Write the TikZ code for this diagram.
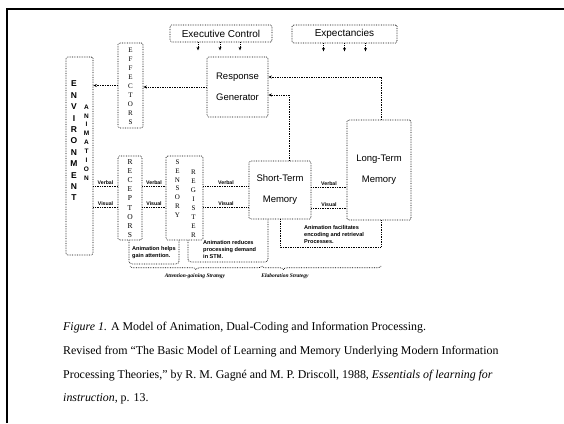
\documentclass[tikz,border=0pt]{standalone}
\usepackage{fontspec}
\setmainfont{Liberation Serif}
\setsansfont{Liberation Sans}
\usetikzlibrary{arrows.meta,decorations.pathreplacing}
\begin{document}
\begin{tikzpicture}[x=1pt,y=-1pt,
  box/.style={draw, densely dotted, line width=0.7pt, inner sep=0pt, rounded corners=1.5pt},
  conn/.style={densely dotted, line width=0.7pt},
  arr/.style={conn, -{Stealth[length=3.5pt,width=3pt]}},
  blbl/.style={font=\sffamily\fontsize{9.5}{21}\selectfont, align=center},
  tlbl/.style={font=\sffamily\fontsize{10}{12}\selectfont},
  vlet/.style={align=center, inner sep=0pt},
  vlbl/.style={font=\sffamily\bfseries\fontsize{5.2}{6}\selectfont, inner sep=1pt, above},
  note/.style={font=\sffamily\bfseries\fontsize{5.6}{7.3}\selectfont, align=left, inner sep=0pt, anchor=north west},
  strat/.style={font=\bfseries\itshape\fontsize{5.5}{7}\selectfont, inner sep=0pt},
  captxt/.style={font=\fontsize{11.9}{13}\selectfont, anchor=base west, inner sep=0pt},
  brc/.style={conn, decorate, decoration={brace, mirror, amplitude=3.5pt}}
]
\useasboundingbox (0,0) rectangle (564,423);
\draw[line width=2.6pt] (7,423) -- (7,9) -- (564,9);

% boxes
\node[box, minimum width=102pt, minimum height=17pt, tlbl] (exec) at (221,33.5) {Executive Control};
\node[box, minimum width=105pt, minimum height=18pt, tlbl] (expect) at (344.5,34) {Expectancies};
\node[box, minimum width=61pt, minimum height=60pt, blbl] (rg) at (237.5,87) {Response\\Generator};
\node[box, minimum width=25pt, minimum height=85pt] (eff) at (130.5,85.5) {};
\node[box, minimum width=27pt, minimum height=198pt] (env) at (79.5,156) {};
\node[box, minimum width=24pt, minimum height=84pt] (rec) at (130,198) {};
\node[box, minimum width=37pt, minimum height=84pt] (sr) at (184.5,198) {};
\node[box, minimum width=62pt, minimum height=58pt, blbl] (stm) at (280,190) {Short-Term\\Memory};
\node[box, minimum width=64pt, minimum height=100pt, blbl] (ltm) at (379,170) {Long-Term\\Memory};

% vertical letters
\node[vlet, font=\sffamily\bfseries\fontsize{8.5}{11.4}\selectfont] (envt) at (74,141) {E\\N\\V\\I\\R\\O\\N\\M\\E\\N\\T};
\node[vlet, font=\sffamily\bfseries\fontsize{6.5}{8.9}\selectfont] (anim) at (86.5,142.5) {A\\N\\I\\M\\A\\T\\I\\O\\N};
\node[vlet, font=\fontsize{7}{9}\selectfont] (efft) at (130.5,86) {E\\F\\F\\E\\C\\T\\O\\R\\S};
\node[vlet, font=\fontsize{7.5}{9.1}\selectfont] (rect) at (130,198.5) {R\\E\\C\\E\\P\\T\\O\\R\\S};
\node[vlet, font=\fontsize{7}{8.8}\selectfont] (sens) at (177.5,188.5) {S\\E\\N\\S\\O\\R\\Y};
\node[vlet, font=\fontsize{7}{9}\selectfont] (regt) at (193.5,203.5) {R\\E\\G\\I\\S\\T\\E\\R};

% control arrows
\foreach \dx in {-23,-1,19} \draw[arr] ([xshift=\dx pt]exec.south) -- ++(0,8);
\foreach \dx in {-21,0,21} \draw[arr] ([xshift=\dx pt]expect.south) -- ++(0,8);

% main connectors
\draw[arr] (rg.west) -- (rg.west -| eff.east);
\draw[arr] (eff.west) -- (eff.west -| env.east);
\draw[arr] (381,0 |- ltm.north) |- (rg.east |- 0,77);
\draw[arr] (289,0 |- stm.north) |- (rg.east |- 0,95);

% verbal / visual channels
\draw[conn] (env.east |- 0,186) -- (rec.west |- 0,186) node[midway, vlbl] {Verbal};
\draw[conn] (env.east |- 0,207) -- (rec.west |- 0,207) node[midway, vlbl] {Visual};
\draw[conn] (rec.east |- 0,186) -- (sr.west |- 0,186) node[midway, vlbl] {Verbal};
\draw[conn] (rec.east |- 0,207) -- (sr.west |- 0,207) node[midway, vlbl] {Visual};
\draw[conn] (sr.east |- 0,186) -- (stm.west |- 0,186) node[midway, vlbl] {Verbal};
\draw[conn] (sr.east |- 0,207) -- (stm.west |- 0,207) node[midway, vlbl] {Visual};
\draw[conn] (stm.east |- 0,187) -- (ltm.west |- 0,187) node[midway, vlbl] {Verbal};
\draw[conn] (stm.east |- 0,208) -- (ltm.west |- 0,208) node[midway, vlbl] {Visual};

% annotation brackets
\draw[conn, rounded corners=3pt] (129,0 |- rec.south) -- (129,264) -- (179,264) -- (179,0 |- sr.south);
\node[note] (n1) at (132,246) {Animation helps\\gain attention.};
\draw[conn, rounded corners=3pt] (188,0 |- sr.south) -- (188,262) -- (268,262) -- (268,0 |- stm.south);
\node[note] (n2) at (203,240) {Animation reduces\\processing demand\\in STM.};
\draw[conn] (280,0 |- stm.south) -- (280,247) -- (381,247) -- (381,0 |- ltm.south);
\node[note] (n3) at (304,225) {Animation facilitates\\encoding and retrieval\\Processes.};

% strategy braces
\draw[brc, decoration={aspect=0.5}] (130,266) -- (262,266);
\draw[brc, decoration={aspect=0.18}] (262,266) -- (381,266);
\node[strat] (s1) at (195,276) {Attention-gaining Strategy};
\node[strat] (s2) at (285,276) {Elaboration Strategy};

% caption
\node[captxt] (c1) at (63,330) {\textit{Figure 1.} A Model of Animation, Dual-Coding and Information Processing.};
\node[captxt] (c2) at (63,354) {Revised from ``The Basic Model of Learning and Memory Underlying Modern Information};
\node[captxt] (c3) at (63,378) {Processing Theories,'' by R. M. Gagné and M. P. Driscoll, 1988, \textit{Essentials of learning for}};
\node[captxt] (c4) at (63,401) {\textit{instruction}, p. 13.};
\end{tikzpicture}
\end{document}
